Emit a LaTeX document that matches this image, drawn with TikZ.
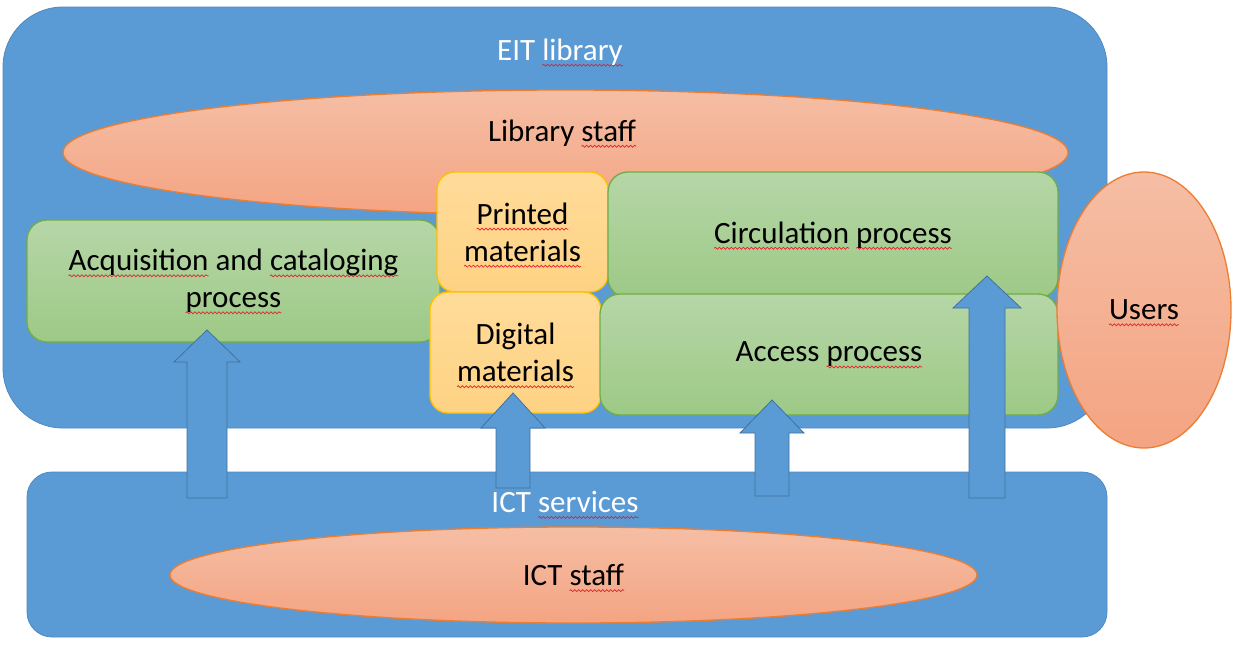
\documentclass[tikz,border=0pt]{standalone}
\usepackage{fontspec}
\setmainfont{Carlito}
\usetikzlibrary{shapes.geometric,decorations.pathmorphing}

\definecolor{libblue}{HTML}{5B9BD5}
\definecolor{libline}{HTML}{4F88C2}
\definecolor{arrline}{HTML}{41719C}
\definecolor{proctop}{HTML}{B6D6A7}
\definecolor{procbot}{HTML}{9DC986}
\definecolor{procline}{HTML}{70AD47}
\definecolor{mattop}{HTML}{FFDC9A}
\definecolor{matbot}{HTML}{FED283}
\definecolor{matline}{HTML}{FFC000}
\definecolor{stafftop}{HTML}{F5BEA5}
\definecolor{staffbot}{HTML}{F4A482}
\definecolor{staffline}{HTML}{ED7D31}
\definecolor{spellred}{HTML}{E8202A}

% wavy spell-check line under a word
\newsavebox\spellbox
\newcommand\spell[1]{\sbox\spellbox{#1}\rlap{\tikz[overlay, sharp corners]
  \draw[spellred, line width=0.7pt, sharp corners, decorate,
    decoration={snake, amplitude=1pt, segment length=4pt}]
    (0pt,-5pt) -- (\the\wd\spellbox,-5pt);}\usebox\spellbox}

% block arrow: centre x, tip y, head base y, bottom y, half head, half shaft
\newcommand\uparr[6]{%
  \draw[blockarr] (#1,#2) -- (#1+#5,#3) -- (#1+#6,#3) -- (#1+#6,#4)
    -- (#1-#6,#4) -- (#1-#6,#3) -- (#1-#5,#3) -- cycle;}

\tikzset{
  every node/.style={font=\fontsize{31}{37}\selectfont, inner sep=0pt},
  frame/.style={rectangle, fill=libblue, draw=libline, line width=0.8pt},
  procbox/.style={rectangle, rounded corners=20pt, draw=procline, line width=1.3pt,
    top color=proctop, bottom color=procbot, align=center},
  matbox/.style={rectangle, rounded corners=18pt, draw=matline, line width=1.3pt,
    top color=mattop, bottom color=matbot, align=center},
  staff/.style={ellipse, draw=staffline, line width=1.3pt,
    top color=stafftop, bottom color=staffbot},
  blockarr/.style={fill=libblue, draw=arrline, line width=0.8pt, line join=miter},
  whitetext/.style={text=white}
}

\begin{document}
\begin{tikzpicture}[x=1pt, y=-1pt]
\useasboundingbox (0,0) rectangle (1233,645);

% the two frames
\node[frame, rounded corners=60pt, minimum width=1104pt, minimum height=421pt] (lib) at (555,217.5) {};
\node[frame, rounded corners=25pt, minimum width=1080pt, minimum height=165pt] (ict) at (567,554.5) {};
\node[whitetext] (libtitle) at (560,52) {EIT \spell{library}};
\node[whitetext] (icttitle) at (565,502) {ICT \spell{services}};

% staff
\node[staff, minimum width=1005pt, minimum height=125pt] (libstaff) at (565.5,152.5) {};
\node (libstafftext) at (562,133) {Library \spell{staff}};
\node[staff, minimum width=807pt, minimum height=96pt] (ictstaff) at (573.5,575) {ICT \spell{staff}};

% processes and materials
\node[procbox, minimum width=413pt, minimum height=122pt] (acq) at (233.5,281)
  {\spell{Acquisition} and \spell{cataloging}\\\spell{process}};
\node[matbox, minimum width=171pt, minimum height=120pt] (printed) at (522.5,232)
  {\spell{Printed}\\\spell{materials}};
\node[matbox, minimum width=171pt, minimum height=121pt] (digital) at (515.5,352.5)
  {Digital\\\spell{materials}};
\node[procbox, minimum width=450pt, minimum height=126pt] (circ) at (833,235)
  {\raisebox{-4pt}{\spell{Circulation} \spell{process}}};
\node[procbox, minimum width=458pt, minimum height=121pt] (access) at (829,354.5)
  {\raisebox{-2pt}{Access \spell{process}}};

% arrows from ICT services
\uparr{207}{330}{362}{498}{33}{20}
\uparr{513}{393}{428}{488}{32}{17}
\uparr{772}{400}{433}{496}{32}{17}
\uparr{987}{276}{308}{498}{34}{18}

% users
\node[staff, minimum width=174pt, minimum height=276pt] (users) at (1144,310) {\spell{Users}};
\end{tikzpicture}
\end{document}
